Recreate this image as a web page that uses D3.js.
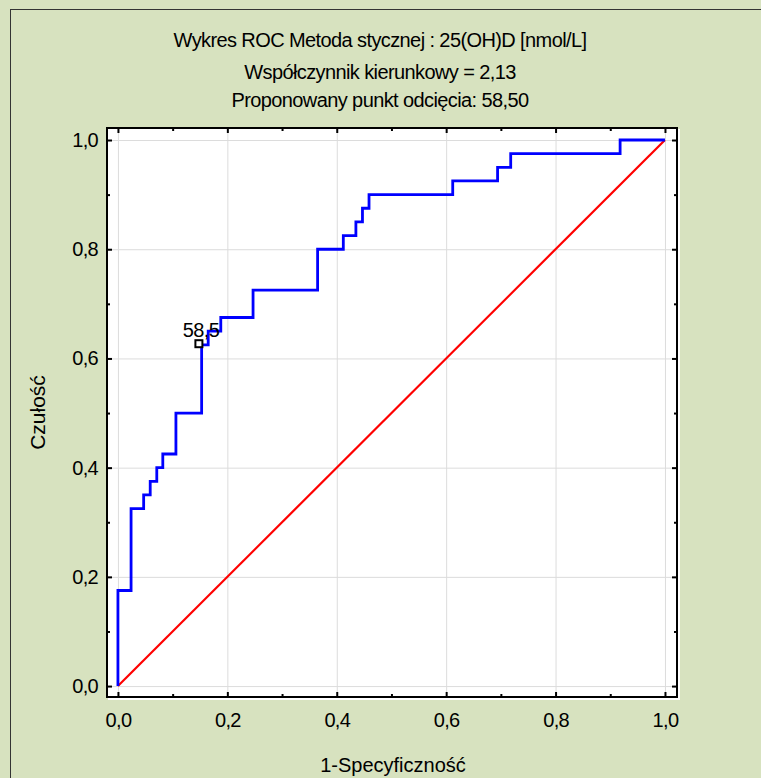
<!DOCTYPE html>
<html>
<head>
<meta charset="utf-8">
<script src="https://cdn.jsdelivr.net/npm/d3@7/dist/d3.min.js"></script>
<style>
  html, body { margin: 0; padding: 0; background: #d7e2bf; }
  svg { display: block; }
  text { font-family: "Liberation Sans", Arial, sans-serif; fill: #000; }
</style>
</head>
<body>
<script>
// ROC curve points (1-specificity, sensitivity)
var fpr = [0, 0, 0.024, 0.047, 0.059, 0.071, 0.082, 0.106, 0.153, 0.165, 0.188,
           0.247, 0.365, 0.412, 0.435, 0.447, 0.459, 0.612, 0.694, 0.718, 0.918, 1.0];
var tpr = [0, 0.175, 0.325, 0.35, 0.375, 0.40, 0.425, 0.50, 0.625, 0.65, 0.675,
           0.725, 0.80, 0.825, 0.85, 0.875, 0.90, 0.925, 0.95, 0.975, 1.0, 1.0];
var diagX = [0, 1];
var diagY = [0, 1];
// proposed cut-off point
var cutX = [0.148];
var cutY = [0.627];
var cutLabel = ['58,5'];

var majorTicks = [0, 0.2, 0.4, 0.6, 0.8, 1.0];
var minorTicks = [0.1, 0.3, 0.5, 0.7, 0.9];
var tickLabels = ['0,0', '0,2', '0,4', '0,6', '0,8', '1,0'];

var titleLines = ['Wykres ROC Metoda stycznej : 25(OH)D [nmol/L]',
                  'Współczynnik kierunkowy = 2,13',
                  'Proponowany punkt odcięcia: 58,50'];
var xTitle = '1-Specyficzność';
var yTitle = 'Czułość';

var W = 761, H = 778;
var svg = d3.select('body').append('svg').attr('width', W).attr('height', H);

// outer background + border (right/bottom edges run off the picture)
svg.append('rect').attr('x', 10.5).attr('y', 9.5).attr('width', W).attr('height', H)
   .attr('fill', '#d7e2bf').attr('stroke', '#333').attr('stroke-width', 1);

var x = d3.scaleLinear().domain([-0.02, 1.022]).range([107, 677]);
var y = d3.scaleLinear().domain([-0.02, 1.022]).range([697, 128]);
var L = x.range()[0], R = x.range()[1], T = y.range()[1], B = y.range()[0];

// white shadow + plot area
svg.append('rect').attr('x', L + 1).attr('y', T + 1).attr('width', R - L + 2).attr('height', B - T + 2)
   .attr('fill', '#fff');
svg.append('rect').attr('x', L).attr('y', T).attr('width', R - L).attr('height', B - T)
   .attr('fill', '#fff');

// grid
svg.append('g').attr('transform', 'translate(0,' + B + ')')
   .call(d3.axisBottom(x).tickValues(majorTicks).tickSize(-(B - T)).tickFormat(''))
   .call(function (g) { g.select('.domain').remove(); g.selectAll('line').attr('stroke', '#dcdcdc'); });
svg.append('g').attr('transform', 'translate(' + L + ',0)')
   .call(d3.axisLeft(y).tickValues(majorTicks).tickSize(-(R - L)).tickFormat(''))
   .call(function (g) { g.select('.domain').remove(); g.selectAll('line').attr('stroke', '#dcdcdc'); });

// diagonal reference
svg.append('line')
   .attr('x1', x(diagX[0])).attr('y1', y(diagY[0]))
   .attr('x2', x(diagX[1])).attr('y2', y(diagY[1]))
   .attr('stroke', '#ff0000').attr('stroke-width', 2.2);

// ROC step curve
var line = d3.line().x(function (d) { return x(d[0]); }).y(function (d) { return y(d[1]); })
             .curve(d3.curveStepAfter);
svg.append('path').datum(d3.zip(fpr, tpr))
   .attr('d', line).attr('fill', 'none').attr('stroke', '#0000ff').attr('stroke-width', 2.8);

// cut-off marker
svg.selectAll('rect.cut').data(cutX).enter().append('rect').attr('class', 'cut')
   .attr('x', function (d) { return x(d) - 3.5; }).attr('y', function (d, i) { return y(cutY[i]) - 3.5; })
   .attr('width', 7).attr('height', 7)
   .attr('fill', '#fff').attr('stroke', '#000').attr('stroke-width', 2);
svg.selectAll('text.cut').data(cutX).enter().append('text').attr('class', 'cut')
   .attr('x', function (d) { return x(d) + 2; }).attr('y', function (d, i) { return y(cutY[i]) - 7; })
   .attr('text-anchor', 'middle').attr('font-size', 20).attr('letter-spacing', -0.6)
   .text(function (d, i) { return cutLabel[i]; });

// frame
svg.append('rect').attr('x', L).attr('y', T).attr('width', R - L).attr('height', B - T)
   .attr('fill', 'none').attr('stroke', '#000').attr('stroke-width', 2);

// inward ticks on all four sides
function ticks(axisFn, scale, pos, vals, size) {
  svg.append('g').attr('transform', pos)
     .call(axisFn(scale).tickValues(vals).tickSize(-size).tickFormat(''))
     .call(function (g) { g.select('.domain').remove(); g.selectAll('line').attr('stroke', '#000').attr('stroke-width', 2); });
}
ticks(d3.axisBottom, x, 'translate(0,' + B + ')', majorTicks, 5);
ticks(d3.axisBottom, x, 'translate(0,' + B + ')', minorTicks, 3);
ticks(d3.axisTop, x, 'translate(0,' + T + ')', majorTicks, 5);
ticks(d3.axisTop, x, 'translate(0,' + T + ')', minorTicks, 3);
ticks(d3.axisLeft, y, 'translate(' + L + ',0)', majorTicks, 5);
ticks(d3.axisLeft, y, 'translate(' + L + ',0)', minorTicks, 3);
ticks(d3.axisRight, y, 'translate(' + R + ',0)', majorTicks, 5);
ticks(d3.axisRight, y, 'translate(' + R + ',0)', minorTicks, 3);

// tick labels
svg.append('g').attr('transform', 'translate(0,' + B + ')')
   .call(d3.axisBottom(x).tickValues(majorTicks).tickSize(0).tickPadding(16)
         .tickFormat(function (d, i) { return tickLabels[i]; }))
   .call(function (g) {
     g.select('.domain').remove();
     g.selectAll('text').attr('font-size', 20).attr('letter-spacing', -0.7).attr('font-family', null);
   });
svg.append('g').attr('transform', 'translate(' + L + ',0)')
   .call(d3.axisLeft(y).tickValues(majorTicks).tickSize(0).tickPadding(9)
         .tickFormat(function (d, i) { return tickLabels[i]; }))
   .call(function (g) {
     g.select('.domain').remove();
     g.selectAll('text').attr('font-size', 20).attr('letter-spacing', -0.7).attr('font-family', null);
   });

// titles
svg.selectAll('text.title').data(titleLines).enter().append('text').attr('class', 'title')
   .attr('x', 380).attr('y', function (d, i) { return [47, 79, 107][i]; })
   .attr('text-anchor', 'middle').attr('font-size', 20).attr('letter-spacing', -0.6)
   .text(function (d) { return d; });

svg.append('text').attr('x', 393).attr('y', 772)
   .attr('text-anchor', 'middle').attr('font-size', 20).text(xTitle);
svg.append('text').attr('transform', 'translate(45,' + (T + B) / 2 + ') rotate(-90)')
   .attr('text-anchor', 'middle').attr('font-size', 21).text(yTitle);
</script>
</body>
</html>
